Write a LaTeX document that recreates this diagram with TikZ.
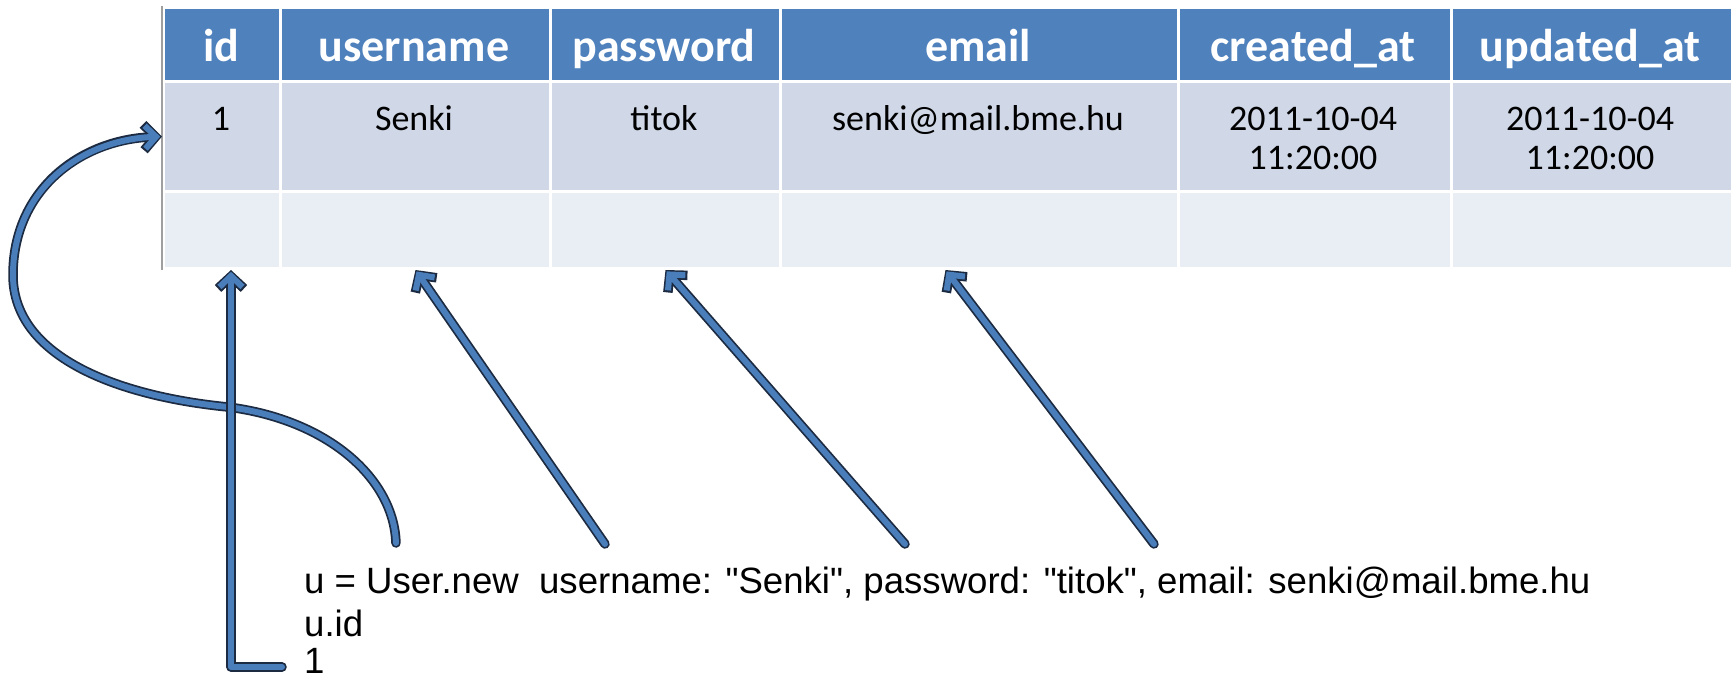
\documentclass[tikz,border=0pt]{standalone}
\usepackage{fontspec}
\setmainfont{Liberation Sans}[Ligatures=TeXOff]
\newfontfamily\calibri{Carlito}
\usetikzlibrary{arrows.meta,calc}
\definecolor{hdrblue}{HTML}{4F81BD}
\definecolor{rowA}{HTML}{D0D8E8}
\definecolor{rowB}{HTML}{E9EDF4}
\definecolor{arrblue}{HTML}{4A7EBB}
\definecolor{arrdark}{HTML}{1C2B42}
\newcommand\fancyarrow[1]{\draw[arrouter] #1; \draw[arrinner] #1;}
\begin{document}
\begin{tikzpicture}[x=1pt,y=-1pt,
 cell/.style={rectangle, draw=white, line width=3pt, inner sep=0pt, anchor=north west},
 hdr/.style={cell, fill=hdrblue},
 rowa/.style={cell, fill=rowA},
 rowb/.style={cell, fill=rowB},
 htext/.style={font=\calibri\bfseries\fontsize{46}{50}\selectfont, text=white, anchor=base, inner sep=0pt},
 ctext/.style={font=\calibri\fontsize{36}{39}\selectfont, anchor=base, inner sep=0pt},
 code/.style={font=\fontsize{36.6}{40}\selectfont, anchor=base west, inner sep=0pt},
 arrouter/.style={draw=arrdark, line width=9.5pt, line cap=round, line join=round, -{Straight Barb[length=12pt,width=26pt]}},
 arrinner/.style={draw=arrblue, line width=6pt, line cap=round, line join=round, shorten >=1.8pt, -{Straight Barb[length=11pt,width=23pt]}},
]
\useasboundingbox (0,0) rectangle (1731,678);
% header
\node[hdr, minimum width=117pt, minimum height=74pt] (h1) at (162,6) {};
\node[hdr, minimum width=270pt, minimum height=74pt] (h2) at (279,6) {};
\node[hdr, minimum width=230pt, minimum height=74pt] (h3) at (549,6) {};
\node[hdr, minimum width=398pt, minimum height=74pt] (h4) at (779,6) {};
\node[hdr, minimum width=273pt, minimum height=74pt] (h5) at (1177,6) {};
\node[hdr, minimum width=284pt, minimum height=74pt] (h6) at (1450,6) {};
% row 1
\node[rowa, minimum width=117pt, minimum height=110pt] (r1) at (162,80) {};
\node[rowa, minimum width=270pt, minimum height=110pt] (r2) at (279,80) {};
\node[rowa, minimum width=230pt, minimum height=110pt] (r3) at (549,80) {};
\node[rowa, minimum width=398pt, minimum height=110pt] (r4) at (779,80) {};
\node[rowa, minimum width=273pt, minimum height=110pt] (r5) at (1177,80) {};
\node[rowa, minimum width=284pt, minimum height=110pt] (r6) at (1450,80) {};
% row 2
\node[rowb, minimum width=117pt, minimum height=77pt] (e1) at (162,190) {};
\node[rowb, minimum width=270pt, minimum height=77pt] (e2) at (279,190) {};
\node[rowb, minimum width=230pt, minimum height=77pt] (e3) at (549,190) {};
\node[rowb, minimum width=398pt, minimum height=77pt] (e4) at (779,190) {};
\node[rowb, minimum width=273pt, minimum height=77pt] (e5) at (1177,190) {};
\node[rowb, minimum width=284pt, minimum height=77pt] (e6) at (1450,190) {};
\draw[gray!75, line width=1.5pt] (h1.north west) -- (e1.south west);
% header texts
\node[htext] (t1) at (221,61) {id};
\node[htext] (t2) at (414,61) {username};
\node[htext] (t3) at (664,61) {password};
\node[htext] (t4) at (978,61) {email};
\node[htext] (t5) at (1313,61) {created\_at};
\node[htext] (t6) at (1590,61) {updated\_at};
% row texts
\node[ctext] (v1) at (221,130) {1};
\node[ctext] (v2) at (414,130) {Senki};
\node[ctext] (v3) at (664,130) {titok};
\node[ctext] (v4) at (978,130) {senki@mail.bme.hu};
\node[ctext] (v5a) at (1313,130) {2011-10-04};
\node[ctext] (v5b) at (1313,169) {11:20:00};
\node[ctext] (v6a) at (1590,130) {2011-10-04};
\node[ctext] (v6b) at (1590,169) {11:20:00};
% code
\node[code] (l1) at (304,593) {u = User.new\ \ username: "Senki", password: "titok", email: senki@mail.bme.hu};
\node[code] (l2) at (304,636) {u.id};
\node[code] (l3) at (304,673) {1};
% arrow ends
\coordinate (s0) at (396,543);
\coordinate (s1) at (605,544);
\coordinate (s2) at (905,544);
\coordinate (s3) at (1154,544);
\coordinate (k0) at (282,667);
\fancyarrow{(s0) .. controls (394,480) and (330,420) .. (228,407) .. controls (125,397) and (13,360) .. (13,275) .. controls (13,190) and (80,140) .. (r1.west)}
\fancyarrow{(k0) -| ($(e1.south)+(9,0)$)}
\fancyarrow{(s1) -- (e2.south)}
\fancyarrow{(s2) -- (e3.south)}
\fancyarrow{(s3) -- ($(e4.south)+(-34,0)$)}
\end{tikzpicture}
\end{document}
